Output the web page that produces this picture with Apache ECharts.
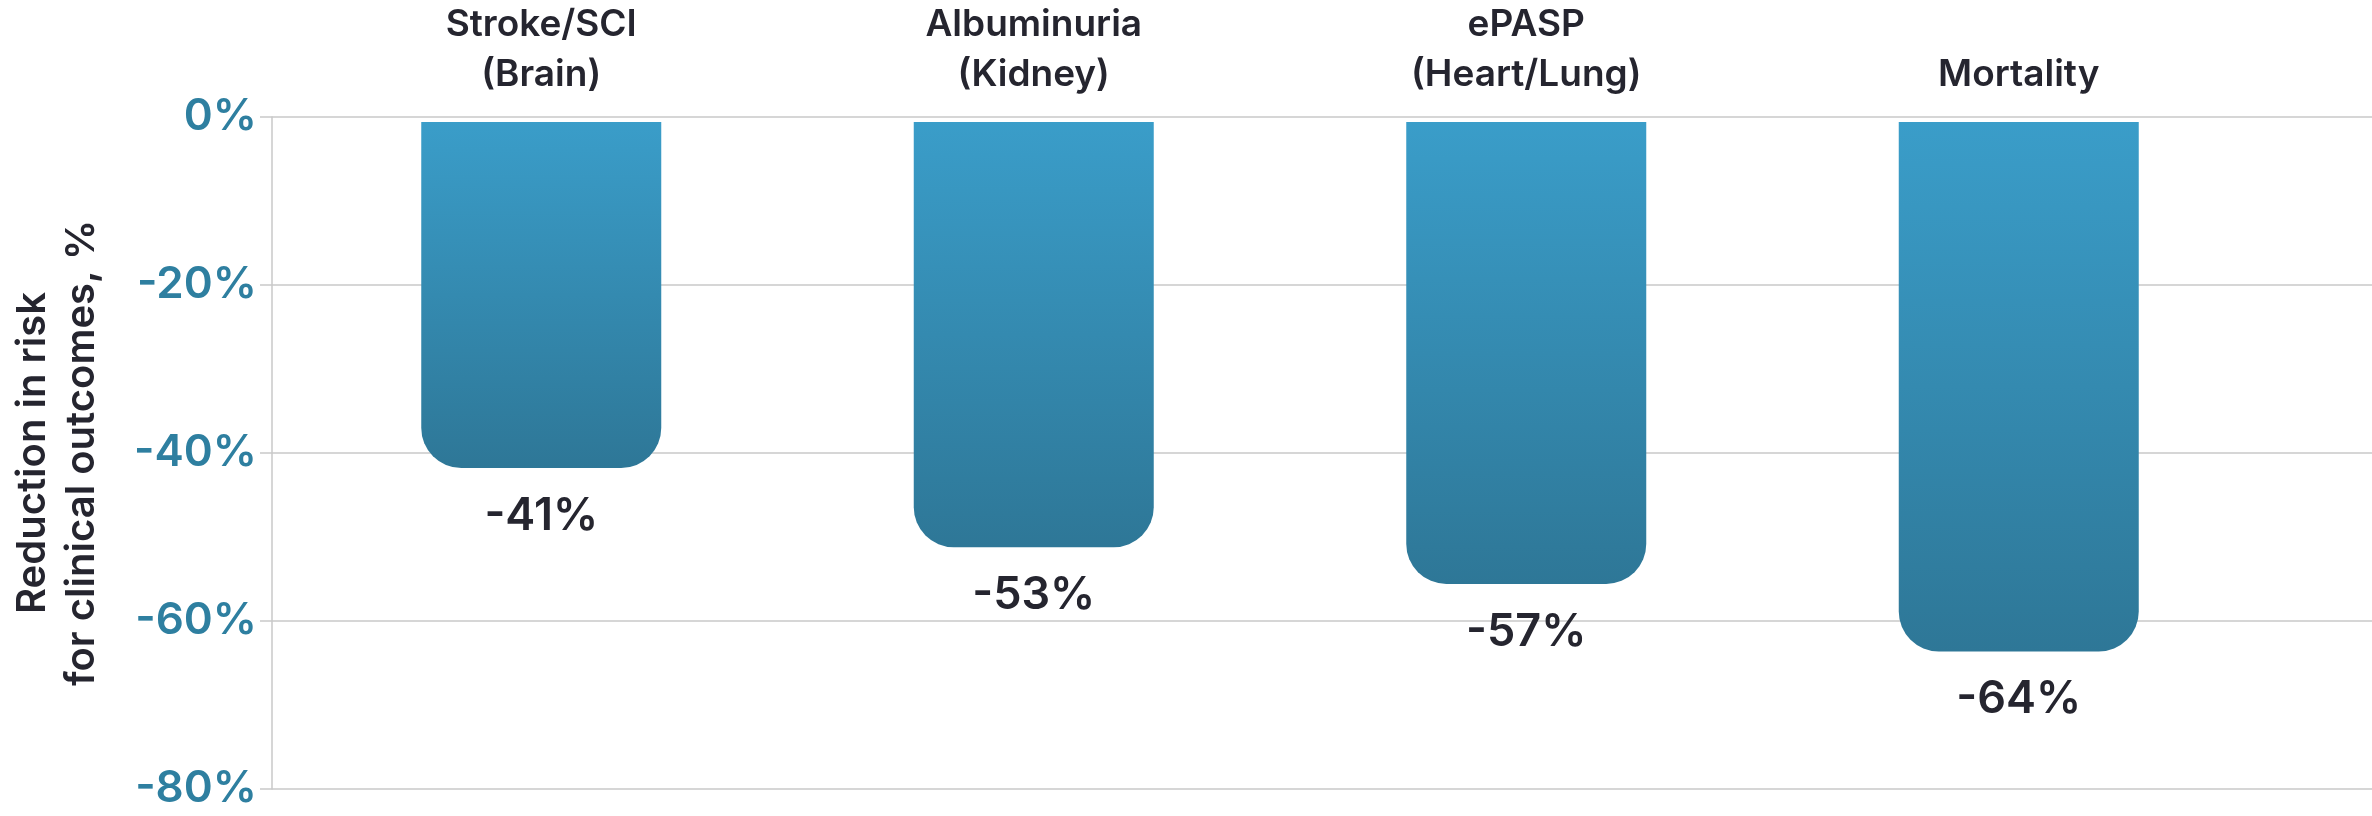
<!DOCTYPE html>
<html>
<head>
<meta charset="utf-8">
<title>Reduction in risk for clinical outcomes</title>
<script src="https://cdn.jsdelivr.net/npm/echarts@6/dist/echarts.min.js"></script>
<style>
  html, body { margin: 0; padding: 0; background: #fff; }
  #chart { width: 2372px; height: 816px; }
</style>
</head>
<body>
<div id="chart"></div>
<script>
const CATEGORIES = ['Stroke/SCI\n(Brain)', 'Albuminuria\n(Kidney)', 'ePASP\n(Heart/Lung)', 'Mortality'];
// bar heights as drawn in the picture
const BAR_VALUES = [-41.5, -51, -55.4, -63.5];
// printed labels under each bar
const BAR_LABELS = ['-41%', '-53%', '-57%', '-64%'];
const Y_TICKS = [0, -20, -40, -60, -80];

const FONT = 'Inter, "Noto Sans", sans-serif';
const TEXT_DARK = '#25252f';
const TICK_BLUE = '#2e7fa0';
const GRID_GREY = '#c9c9c9';

const chart = echarts.init(document.getElementById('chart'), null, { renderer: 'canvas' });

function barGradient() {
  return new echarts.graphic.LinearGradient(0, 0, 0, 1, [
    { offset: 0, color: '#3a9dc9' },
    { offset: 1, color: '#2e7797' }
  ]);
}

const option = {
  backgroundColor: '#fff',
  animation: false,
  textStyle: { fontFamily: FONT },
  grid: [
    // background grid: y axis, ticks and split lines run to the right edge
    { left: 265, right: 0, top: 117, bottom: 27 },
    // bars sit in a narrower band
    { left: 295, right: 107, top: 117, bottom: 27 }
  ],
  xAxis: [
    { gridIndex: 0, type: 'value', min: 0, max: 1, show: false },
    {
      gridIndex: 1,
      type: 'category',
      position: 'top',
      data: CATEGORIES,
      axisLine: { show: false },
      axisTick: { show: false },
      axisLabel: {
        margin: 22,
        fontFamily: FONT,
        fontSize: 37,
        fontWeight: 600,
        lineHeight: 50,
        color: TEXT_DARK
      }
    }
  ],
  yAxis: [
    {
      gridIndex: 0,
      type: 'value',
      min: Y_TICKS[Y_TICKS.length - 1],
      max: Y_TICKS[0],
      interval: 20,
      name: 'Reduction in risk\nfor clinical outcomes, %',
      nameLocation: 'middle',
      nameRotate: 90,
      nameGap: 166,
      nameTextStyle: {
        fontFamily: FONT,
        fontSize: 40,
        fontWeight: 600,
        lineHeight: 49,
        color: TEXT_DARK
      },
      axisLine: { show: true, lineStyle: { color: GRID_GREY, width: 1.5 } },
      axisTick: { show: true, length: 12, lineStyle: { color: GRID_GREY, width: 1.5 } },
      splitLine: { show: true, lineStyle: { color: GRID_GREY, width: 1.5 } },
      axisLabel: {
        margin: 15,
        fontFamily: FONT,
        fontSize: 44,
        fontWeight: 600,
        color: TICK_BLUE,
        formatter: (v) => `${v}%`
      }
    },
    {
      gridIndex: 1,
      type: 'value',
      min: -80,
      max: 0,
      interval: 20,
      show: false
    }
  ],
  series: [{
    type: 'bar',
    xAxisIndex: 1,
    yAxisIndex: 1,
    barWidth: 240,
    data: BAR_VALUES.map((v) => ({
      value: v,
      itemStyle: { color: barGradient(), borderRadius: [0, 0, 40, 40] }
    })),
    label: {
      show: true,
      position: 'bottom',
      distance: 26,
      fontFamily: FONT,
      fontSize: 45,
      fontWeight: 600,
      color: TEXT_DARK,
      formatter: (p) => BAR_LABELS[p.dataIndex]
    }
  }]
};

chart.setOption(option);
</script>
</body>
</html>
